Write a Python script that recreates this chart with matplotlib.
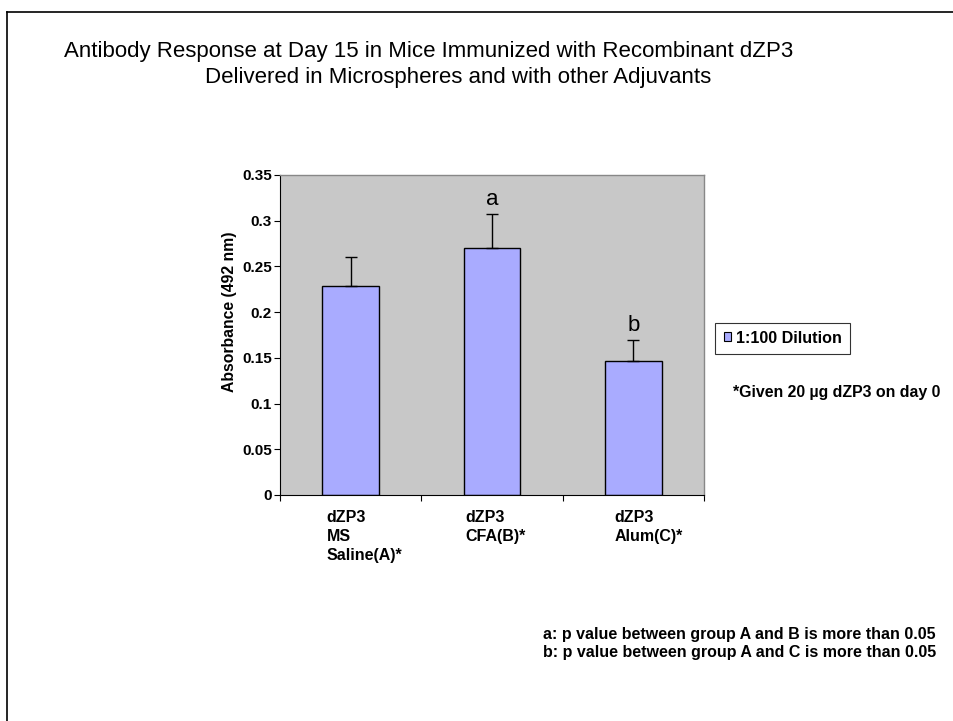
import matplotlib
matplotlib.use("Agg")
import matplotlib.pyplot as plt
from matplotlib.lines import Line2D
from matplotlib.patches import Patch
import numpy as np

plt.rcParams['font.family'] = ['Liberation Sans', 'DejaVu Sans']

categories = ["dZP3\nMS\nSaline(A)*", "dZP3\nCFA(B)*", "dZP3\nAlum(C)*"]
values = [0.229, 0.270, 0.147]
errors = [0.031, 0.037, 0.022]
sig_labels = ["", "a", "b"]
series_name = "1:100 Dilution"
yticks = [0, 0.05, 0.1, 0.15, 0.2, 0.25, 0.3, 0.35]
ytick_labels = ["0", "0.05", "0.1", "0.15", "0.2", "0.25", "0.3", "0.35"]

W, H = 954, 721
fig = plt.figure(figsize=(W / 100, H / 100), dpi=100)

# page frame (top and left only)
fig.add_artist(Line2D([7.5 / W, 7.5 / W], [0, 1 - 11.5 / H], color='black', lw=1.2, transform=fig.transFigure))
fig.add_artist(Line2D([7.5 / W, 1], [1 - 11.5 / H, 1 - 11.5 / H], color='black', lw=1.2, transform=fig.transFigure))

fig.text(429 / W, 1 - 52 / H, "Antibody Response at Day 15 in Mice Immunized with Recombinant dZP3",
         ha='center', va='center', fontsize=16)
fig.text(458 / W, 1 - 77 / H, "Delivered in Microspheres and with other Adjuvants",
         ha='center', va='center', fontsize=16)

ax = fig.add_axes([280 / W, 1 - 495 / H, (704 - 280) / W, (495 - 175) / H])
ax.set_facecolor('#C8C8C8')
x = np.arange(len(categories))
ax.bar(x, values, width=0.4, color='#A9ABFF', edgecolor='black', linewidth=1.0,
       label=series_name, zorder=2)
ax.errorbar(x, values, yerr=[np.zeros(len(errors)), errors], fmt='none', ecolor='black',
            elinewidth=1.0, capsize=4, capthick=1.0, zorder=3)
for xi, v, e, s in zip(x, values, errors, sig_labels):
    if s:
        ax.annotate(s, (xi, v + e), xytext=(0, 3), textcoords='offset points',
                    ha='center', va='bottom', fontsize=16)

ax.set_xlim(-0.5, len(categories) - 0.5)
ax.set_ylim(0, 0.35)
ax.set_yticks(yticks)
ax.set_yticklabels(ytick_labels, fontsize=11, fontweight='bold')
ax.set_xticks(np.arange(len(categories) + 1) - 0.5)
ax.set_xticklabels([])
ax.tick_params(axis='both', direction='out', length=4, width=0.8, colors='black')
ax.tick_params(axis='y', pad=2)
for side in ['top', 'right']:
    ax.spines[side].set_color('#888888')
    ax.spines[side].set_linewidth(1.0)
for side in ['left', 'bottom']:
    ax.spines[side].set_color('black')
    ax.spines[side].set_linewidth(0.8)

offsets = [-0.17, -0.19, -0.135]
for xi, lab, off in zip(x, categories, offsets):
    ax.text(xi + off, -0.016, lab, ha='left', va='top', fontsize=11.5, fontweight='bold',
            linespacing=1.36, transform=ax.transData, clip_on=False)

ax.set_ylabel("Absorbance (492 nm)", fontsize=11.3, fontweight='bold', labelpad=4)
ax.yaxis.set_label_coords(-0.102, 0.572)

handles = [Patch(facecolor='#A9ABFF', edgecolor='black', linewidth=0.8)]
leg = fig.legend(handles, [series_name], loc='upper left', bbox_to_anchor=(715.5 / W, 1 - 322.5 / H),
                 frameon=True, fancybox=False, edgecolor='black', handlelength=0.45, handleheight=0.45,
                 handletextpad=0.35, borderpad=0.5, borderaxespad=0,
                 prop={'size': 11.6, 'weight': 'bold'})
leg.get_frame().set_linewidth(0.8)

fig.text(733 / W, 1 - 392 / H, "*Given 20 µg dZP3 on day 0", ha='left', va='center',
         fontsize=11.4, fontweight='bold')
fig.text(543 / W, 1 - 635 / H, "a: p value between group A and B is more than 0.05",
         ha='left', va='center', fontsize=11.5, fontweight='bold')
fig.text(543 / W, 1 - 653 / H, "b: p value between group A and C is more than 0.05",
         ha='left', va='center', fontsize=11.5, fontweight='bold')

fig.savefig("out.png", dpi=100, facecolor='white')
